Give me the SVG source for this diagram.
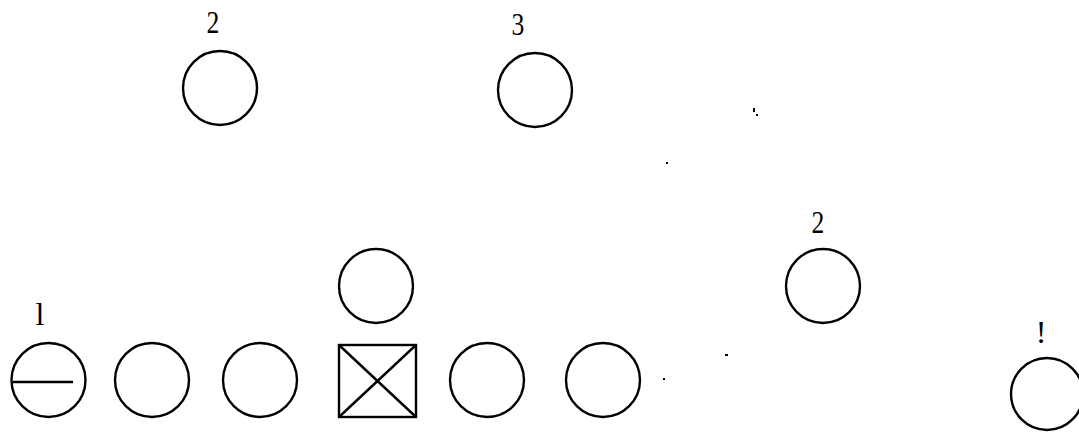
<svg xmlns="http://www.w3.org/2000/svg" width="1079" height="432" viewBox="0 0 1079 432">
<style>
.n{fill:none;stroke:#000;stroke-width:2.4}
.t{font-family:"Liberation Serif",serif;font-size:32px;fill:#000;text-anchor:middle}
.d{fill:#000}
</style>
<rect width="1079" height="432" fill="#fff"/>
<g id="node-top-2"><circle class="n" cx="220" cy="88" r="37"/><text class="t" x="213" y="33" transform="translate(213 0) scale(0.8 1) translate(-213 0)">2</text></g>
<g id="node-top-3"><circle class="n" cx="535" cy="90" r="37"/><text class="t" x="518" y="35" transform="translate(518 0) scale(0.8 1) translate(-518 0)">3</text></g>
<g id="node-right-2"><circle class="n" cx="823" cy="286" r="37"/><text class="t" x="818" y="233" transform="translate(818 0) scale(0.8 1) translate(-818 0)">2</text></g>
<g id="node-mid"><circle class="n" cx="376" cy="286" r="37"/></g>
<g id="node-1"><circle class="n" cx="48.5" cy="380" r="37"/><line class="n" stroke-width="2" x1="13" y1="382" x2="73" y2="382"/><text class="t" x="40" y="325">l</text></g>
<g id="node-b2"><circle class="n" cx="152" cy="380" r="37"/></g>
<g id="node-b3"><circle class="n" cx="260" cy="380" r="37"/></g>
<g id="node-box"><rect class="n" x="339" y="345" width="77" height="72"/><line class="n" stroke-width="1.5" x1="339" y1="345" x2="416" y2="417"/><line class="n" stroke-width="1.5" x1="416" y1="345" x2="339" y2="417"/></g>
<g id="node-b5"><circle class="n" cx="487" cy="380" r="37"/></g>
<g id="node-b6"><circle class="n" cx="603" cy="380" r="37"/></g>
<g id="node-far"><circle class="n" stroke-width="1.8" cx="1047" cy="394" r="36"/><text class="t" x="1041" y="343">!</text></g>
<g id="connectors">
<rect class="d" x="753" y="108" width="2" height="4"/>
<rect class="d" x="756" y="114" width="2" height="2"/>
<rect class="d" x="666" y="162" width="2" height="2"/>
<rect class="d" x="663" y="378" width="2" height="2"/>
<rect class="d" x="725" y="354" width="3" height="2"/>
</g>
</svg>
